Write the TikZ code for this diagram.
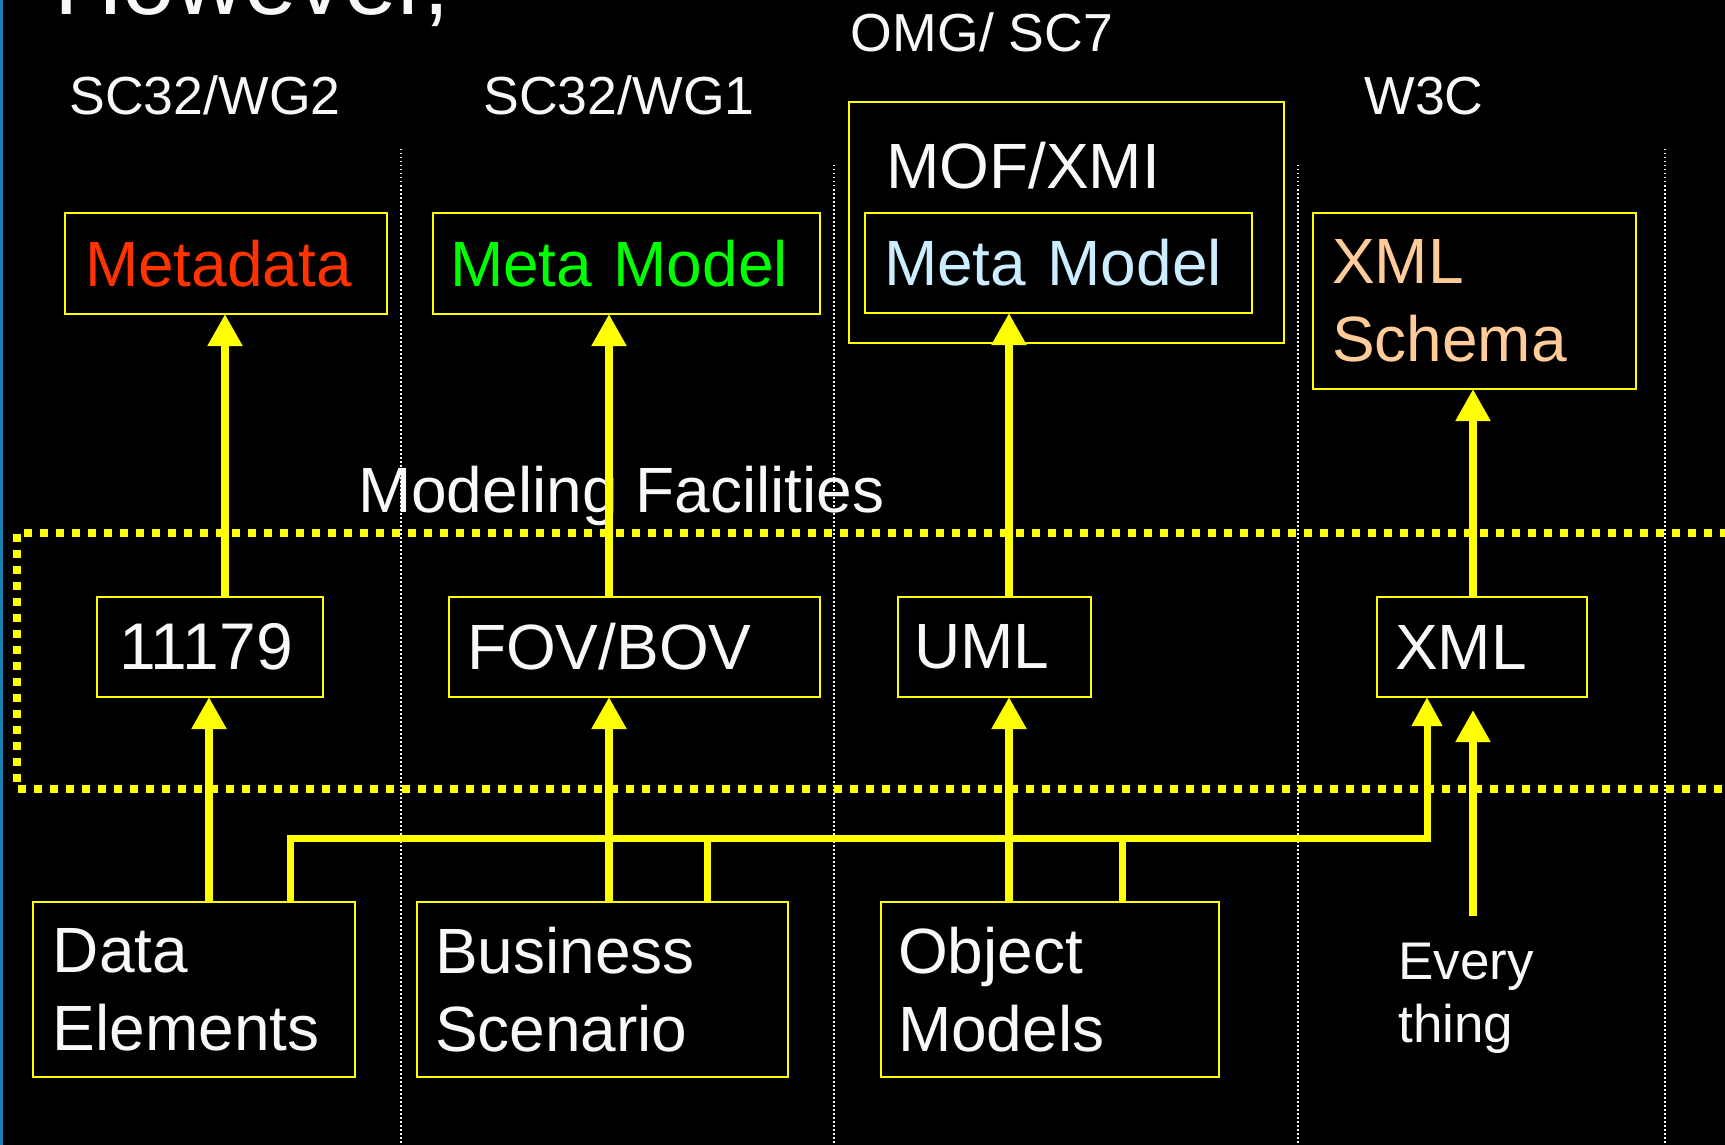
\documentclass[tikz,border=0pt]{standalone}
\usepackage{fontspec}
\setmainfont{Liberation Sans}
\usetikzlibrary{arrows.meta}
\definecolor{ylw}{HTML}{FFFF00}
\definecolor{txt}{HTML}{F8F8F8}
\definecolor{mdred}{HTML}{FF3300}
\definecolor{mmgreen}{HTML}{00FF00}
\definecolor{mmblue}{HTML}{CCECFF}
\definecolor{xsdtan}{HTML}{FFCC99}
\definecolor{edge}{HTML}{1A80B0}
\newcommand{\boxfont}{\fontsize{32}{39}\selectfont}
\newcommand{\headfont}{\fontsize{26.8}{31}\selectfont}

\begin{document}
\begin{tikzpicture}[x=0.5pt, y=-0.5pt,
  box/.style={draw=ylw, line width=1pt, fill=black, anchor=north west, outer sep=0pt, inner ysep=0pt, align=left, font=\boxfont, text=txt},
  hd/.style={font=\headfont, text=txt, anchor=base},
  arr/.style={draw=ylw, line width=4pt, -{Triangle[width=16.5pt,length=16pt]}},
  lnk/.style={draw=ylw, line width=3.5pt},
  colline/.style={draw=txt, line width=0.75pt, dash pattern=on 0.75pt off 1.25pt},
  fac/.style={draw=ylw, line width=4pt, dash pattern=on 4pt off 4pt}]
\fill[black] (0,0) rectangle (1725,1145);
\useasboundingbox (0,0) rectangle (1725,1145);
\fill[edge] (0,0) rectangle (2.5,1145);

% columns
\foreach \x/\y in {401/149, 834/165, 1298/165, 1665/149}{\draw[colline] (\x,\y) -- (\x,1145);}
\draw[fac] (1760,533) -- (17,533) -- (17,789) -- (1760,789);

% headings
\node[font=\fontsize{47.5}{50}\selectfont, text=txt, anchor=base west] (hw) at (47,15) {However,};
\node[hd] (wg2) at (205,115) {SC32/WG2};
\node[hd] (wg1) at (619,115) {SC32/WG1};
\node[hd] (omg) at (982,52) {OMG/ SC7};
\node[hd] (w3c) at (1424,115) {W3C};
\node[anchor=base west, font=\fontsize{32}{38}\selectfont, text=txt] (mf) at (351,512) {Modeling Facilities};

% meta level
\node[box, text=mdred, text width=141pt, inner xsep=10pt, minimum height=50.5pt] (meta1) at (65,213) {Metadata};
\node[box, text=mmgreen, text width=176.5pt, inner xsep=8.5pt, minimum height=50.5pt] (meta2) at (433,213) {Meta Model};
\node[box, minimum width=217.5pt, minimum height=120.5pt] (mof) at (849,102) {};
\node[anchor=base west, font=\boxfont, text=txt] (mofl) at (879,189) {MOF/XMI};
\node[box, text=mmblue, text width=174.5pt, inner xsep=9.5pt, minimum height=50pt] (meta3) at (865,213) {Meta Model};
\node[box, text=xsdtan, text width=142.5pt, inner xsep=9.5pt, minimum height=88pt] (xsd) at (1313,213) {XML\\Schema};

% facilities
\node[box, font=\fontsize{33}{39}\selectfont, text width=91pt, inner xsep=11pt, minimum height=50pt] (iso) at (97,597) {11179};
\node[box, text width=167.5pt, inner xsep=9pt, minimum height=50pt] (fov) at (449,597) {FOV/BOV};
\node[box, text width=80.5pt, inner xsep=8pt, minimum height=50pt] (uml) at (898,597) {UML};
\node[box, text width=87pt, inner xsep=9pt, minimum height=50pt] (xml) at (1377,597) {XML};

% models
\node[box, text width=141pt, inner xsep=10pt, minimum height=87.5pt] (de) at (33,902) {Data\\Elements};
\node[box, text width=167.5pt, inner xsep=9pt, minimum height=87.5pt] (bs) at (417,902) {Business\\Scenario};
\node[box, text width=152pt, inner xsep=8.5pt, minimum height=87.5pt] (om) at (881,902) {Object\\Models};
\node[anchor=west, align=left, inner sep=0pt, font=\fontsize{26.5}{31.5}\selectfont, text=txt] (ev) at (1398,998) {Every\\thing};

% arrows
\coordinate (c1) at (209,0);
\coordinate (c2) at (225,0);
\coordinate (c3) at (609,0);
\coordinate (c4) at (1009,0);
\coordinate (c5) at (1473,0);
\coordinate (evtail) at (1473,916);
\coordinate (evtip) at (1473,710);
\draw[arr] (de.north -| c1) -- (iso.south -| c1);
\draw[arr] (iso.north -| c2) -- (meta1.south -| c2);
\draw[arr] (bs.north -| c3) -- (fov.south -| c3);
\draw[arr] (fov.north -| c3) -- (meta2.south -| c3);
\draw[arr] (om.north -| c4) -- (uml.south -| c4);
\draw[arr] (uml.north -| c4) -- (meta3.south -| c4);
\draw[arr] (xml.north -| c5) -- (xsd.south -| c5);
\draw[arr] (evtail) -- (evtip);

% shared link to XML
\coordinate (bus) at (0,838);
\coordinate (j1) at (290,0);
\coordinate (j2) at (707,0);
\coordinate (j3) at (1122,0);
\coordinate (j4) at (1427,0);
\draw[lnk, -{Triangle[width=14.5pt,length=14.5pt]}] (de.north -| j1) |- (bus -| j4) -- (xml.south -| j4);
\draw[lnk] (bs.north -| j2) -- (bus -| j2);
\draw[lnk] (om.north -| j3) -- (bus -| j3);
\end{tikzpicture}
\end{document}
